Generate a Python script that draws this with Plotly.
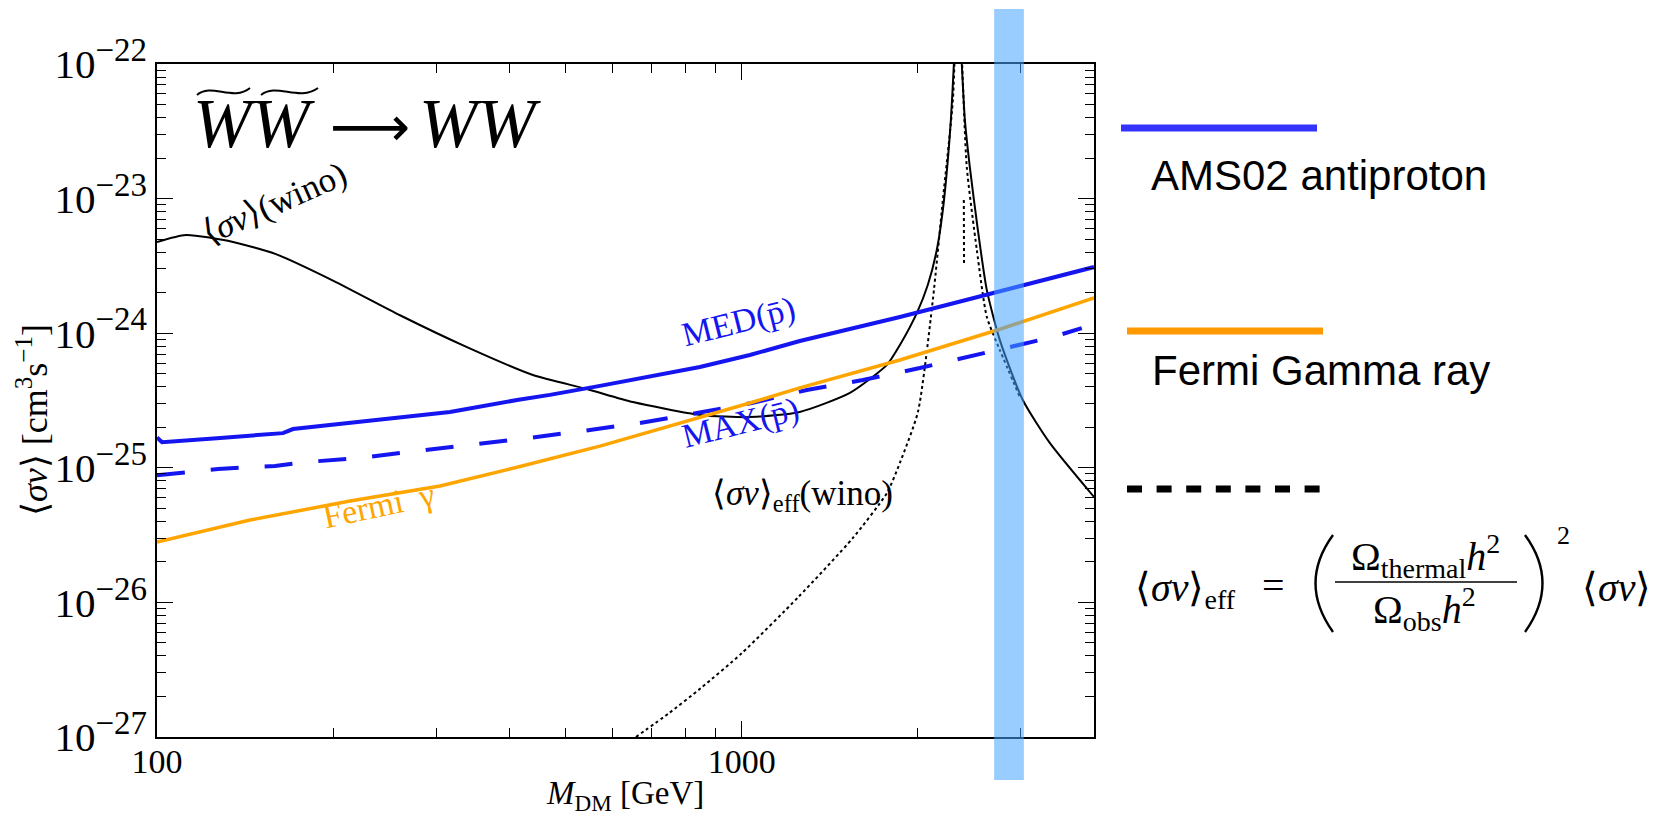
import math
import plotly.graph_objects as go

# ---------------- data ----------------
# AMS02 antiproton, MED propagation (solid blue)
med_mass = [100, 102, 126.6, 164.2, 170.8, 213.8, 253.2, 316.9, 412.6, 469.7, 571.9,
            744.5, 847.7, 1032, 1256, 1863, 2685, 4000]
med_sv = [1.68e-25, 1.55e-25, 1.66e-25, 1.81e-25, 1.94e-25, 2.15e-25, 2.31e-25, 2.60e-25,
          3.19e-25, 3.48e-25, 4.06e-25, 5.06e-25, 5.61e-25, 6.89e-25, 8.75e-25, 1.32e-24,
          1.99e-24, 3.10e-24]

# AMS02 antiproton, MAX propagation (dashed blue)
max_mass = [100, 127.2, 143.1, 159.1, 177.7, 222.3, 276.1, 345.5, 430.8, 534.9, 669.2,
            837.6, 1040, 1291, 1610, 2015, 2483, 2761, 3070, 3401, 3812]
max_sv = [8.8e-26, 9.80e-26, 1.01e-25, 1.03e-25, 1.10e-25, 1.18e-25, 1.33e-25, 1.48e-25,
          1.66e-25, 1.88e-25, 2.15e-25, 2.55e-25, 3.03e-25, 3.78e-25, 4.49e-25, 5.51e-25,
          6.77e-25, 7.50e-25, 8.45e-25, 9.37e-25, 1.09e-24]

# Fermi gamma-ray limit (orange)
fermi_mass = [100, 144.2, 213.8, 304.7, 412.6, 571.9, 1032, 1256, 1863, 2761, 4000]
fermi_sv = [2.81e-26, 4.09e-26, 5.66e-26, 7.32e-26, 1.01e-25, 1.45e-25, 3.03e-25,
            3.92e-25, 6.32e-25, 1.07e-24, 1.83e-24]

# wino <sigma v> (solid black)
wino_mass = [100, 112.1, 134.9, 159.7, 200.7, 260.3, 338.8, 439.2, 543.3, 651.2, 847.7,
             1032, 1256, 1530, 1770, 1863, 1991, 2079, 2154, 2206, 2250, 2277, 2304,
             2340, 2377, 2406, 2453, 2532, 2623, 2761, 3022, 3361, 4000]
wino_sv = [4.76e-24, 5.37e-24, 4.76e-24, 3.87e-24, 2.44e-24, 1.36e-24, 7.88e-25, 4.89e-25,
           3.85e-25, 3.08e-25, 2.47e-25, 2.38e-25, 2.60e-25, 3.60e-25, 5.81e-25, 8.17e-25,
           1.41e-24, 2.28e-24, 4.15e-24, 8.22e-24, 1.94e-23, 3.84e-23, 1.0e-22,
           5.0e-22, 1.0e-22, 3.84e-23, 1.72e-23, 5.85e-24, 2.09e-24, 8.89e-25, 3.19e-25,
           1.53e-25, 6.07e-26]

# effective wino <sigma v>_eff (dotted black)
eff_mass = [659, 750, 850, 1000, 1250, 1547, 1770, 1863, 2000, 2121, 2206, 2295, 2340,
            2380, 2424, 2522, 2623, 2761, 2987]
eff_sv = [1.0e-27, 1.5e-27, 2.3e-27, 4.2e-27, 1.1e-26, 3.0e-26, 6.5e-26, 1.09e-25,
          2.6e-25, 1.77e-24, 9.77e-24, 5.4e-23, 5.0e-22, 1.0e-22, 1.72e-23, 4.15e-24,
          1.32e-24, 7.5e-25, 3.36e-25]
eff_spur_mass = [2396, 2398]
eff_spur_sv = [9.77e-24, 3.33e-24]

# thermal wino mass band
band_mass = [2700, 3035]

x_ticks = [100, 1000]
x_ticktext = ["100", "1000"]
y_ticks = [1e-27, 1e-26, 1e-25, 1e-24, 1e-23, 1e-22]
y_exponents = ["\u221227", "\u221226", "\u221225", "\u221224", "\u221223", "\u221222"]
y_ticktext = [f"10<sup><span style='font-size:33px'>{e}</span></sup>" for e in y_exponents]
x_minor = [k * 10 ** n for n in (2, 3) for k in range(2, 10) if k * 10 ** n <= 4000]
y_minor = [k * 10.0 ** n for n in range(-27, -22) for k in range(2, 10)]

# ---------------- figure ----------------
# page pixel layout (the page body adds an 8 px margin around the figure)
PAGE_OFF = 8
W, H = 1662 - 2 * PAGE_OFF, 824 - 2 * PAGE_OFF
L, R, T, B = 157, 1094, 64, 737          # plot frame in page pixels
SERIF = "Liberation Serif"


def px(X):
    return (X - L) / (R - L)


def py(Y):
    return (B - Y) / (B - T)


fig = go.Figure()
fig.add_trace(go.Scatter(x=wino_mass, y=wino_sv, mode="lines",
                         line=dict(color="black", width=2, shape="spline", smoothing=0.6)))
fig.add_trace(go.Scatter(x=eff_mass, y=eff_sv, mode="lines",
                         line=dict(color="black", width=2, dash="3px,3px",
                                   shape="spline", smoothing=0.6)))
fig.add_trace(go.Scatter(x=eff_spur_mass, y=eff_spur_sv, mode="lines",
                         line=dict(color="black", width=2, dash="3px,3px")))
fig.add_trace(go.Scatter(x=max_mass, y=max_sv, mode="lines",
                         line=dict(color="#1515f0", width=4, dash="28px,26px")))
fig.add_trace(go.Scatter(x=med_mass, y=med_sv, mode="lines",
                         line=dict(color="#1515f0", width=4)))
fig.add_trace(go.Scatter(x=fermi_mass, y=fermi_sv, mode="lines",
                         line=dict(color="#FFA500", width=3.5)))

ann = []


def text(x, y, s, size, color="black", family=SERIF, angle=0, xanchor="center"):
    ann.append(dict(x=px(x), y=py(y), xref="paper", yref="paper", text=s,
                    showarrow=False, font=dict(size=size, color=color, family=family),
                    textangle=angle, xanchor=xanchor, yanchor="middle"))


# title W~W~ -> WW
text(254, 123, "<i>WW</i>", 70)
text(370, 126, "\u27f6", 56, family="DejaVu Sans")
text(480, 123, "<i>WW</i>", 70)

# in-plot labels
text(274, 203, "\u27e8<i>\u03c3v</i>\u27e9(wino)", 35, angle=-24)
text(738, 322, "MED(p\u0304)", 34, color="#1515f0", angle=-14)
text(740, 423, "MAX(p\u0304)", 34, color="#1515f0", angle=-14)
text(802, 496, "\u27e8<i>\u03c3v</i>\u27e9<sub>eff</sub>(wino)", 35)
text(378, 505, "Fermi\u00a0\u00a0\u03b3", 34, color="#FFA500", angle=-12)

# axis titles
text(625, 796, "<i>M</i><sub>DM</sub> [GeV]", 33)
text(32, 420, "\u27e8<i>\u03c3v</i>\u27e9 [cm<sup>3</sup>s<sup>\u22121</sup>]", 36, angle=-90)

# legend texts
text(1149, 176, "AMS02 antiproton", 42, family="Liberation Sans", xanchor="left")
text(1150, 370, "Fermi Gamma ray", 42, family="Liberation Sans", xanchor="left")

# formula
text(1133, 590, "\u27e8<i>\u03c3v</i>\u27e9<sub>eff</sub>", 40, xanchor="left")
text(1273, 585, "=", 40)
text(1425, 556, "\u03a9<sub>thermal</sub><i>h</i><sup>2</sup>", 40)
text(1424, 609, "\u03a9<sub>obs</sub><i>h</i><sup>2</sup>", 40)
text(1563, 535, "2", 26)
text(1616, 587, "\u27e8<i>\u03c3v</i>\u27e9", 40)

fig.update_layout(annotations=ann)

shapes = []
# thermal band
shapes.append(dict(type="rect", xref="x", yref="paper",
                   x0=band_mass[0], x1=band_mass[1],
                   y0=py(780), y1=py(9), fillcolor="rgb(70,162,255)", opacity=0.55,
                   line=dict(width=0), layer="above"))


def pline(x0, y0, x1, y1, color, width, dash="solid"):
    shapes.append(dict(type="line", xref="paper", yref="paper", x0=px(x0), y0=py(y0),
                       x1=px(x1), y1=py(y1), line=dict(color=color, width=width, dash=dash)))


def ppath(points_str, width=2):
    shapes.append(dict(type="path", xref="paper", yref="paper", path=points_str,
                       line=dict(color="black", width=width)))


def P(X, Y):
    return f"{px(X):.5f},{py(Y):.5f}"


# legend lines
pline(1121, 128, 1317, 128, "rgb(51,51,255)", 7)
pline(1127, 331, 1323, 331, "#FF9900", 7)
pline(1127, 489, 1320, 489, "black", 7, dash="15px,14.6px")

# fraction bar and parentheses
pline(1335, 582, 1517, 582, "black", 1.5)
ppath(f"M {P(1333, 535)} Q {P(1298, 583)} {P(1333, 632)}", 2.4)
ppath(f"M {P(1525, 535)} Q {P(1560, 583)} {P(1525, 632)}", 2.4)

# wide tildes over W W
ppath(f"M {P(197, 95)} C {P(211, 82)} {P(233, 102)} {P(250, 88)}", 2)
ppath(f"M {P(261, 95)} C {P(276, 82)} {P(299, 102)} {P(318, 88)}", 2)

fig.update_layout(shapes=shapes)

axis_common = dict(showline=True, linecolor="black", linewidth=1.5, mirror="ticks",
                   ticks="inside", ticklen=16, tickwidth=1.2, tickcolor="black",
                   showgrid=False, zeroline=False)

fig.update_xaxes(type="log", range=[2, math.log10(4000)], tickmode="array",
                 tickvals=x_ticks, ticktext=x_ticktext, ticklabelstandoff=-7,
                 tickfont=dict(family=SERIF, size=34, color="black"),
                 minor=dict(ticks="inside", ticklen=9, tickwidth=1.2, tickcolor="black",
                            tickmode="array", tickvals=x_minor, showgrid=False),
                 **axis_common)
fig.update_yaxes(type="log", range=[-27, -22], tickmode="array",
                 tickvals=y_ticks, ticktext=y_ticktext, ticklabelstandoff=0,
                 tickfont=dict(family=SERIF, size=41, color="black"),
                 minor=dict(ticks="inside", ticklen=9, tickwidth=1.2, tickcolor="black",
                            tickmode="array", tickvals=y_minor, showgrid=False),
                 **axis_common)

fig.update_layout(width=W, height=H, showlegend=False,
                  margin=dict(l=L - PAGE_OFF, r=W - (R - PAGE_OFF), t=T - PAGE_OFF,
                              b=H - (B - PAGE_OFF), pad=0),
                  paper_bgcolor="white", plot_bgcolor="white")

fig.write_html("out.html")
